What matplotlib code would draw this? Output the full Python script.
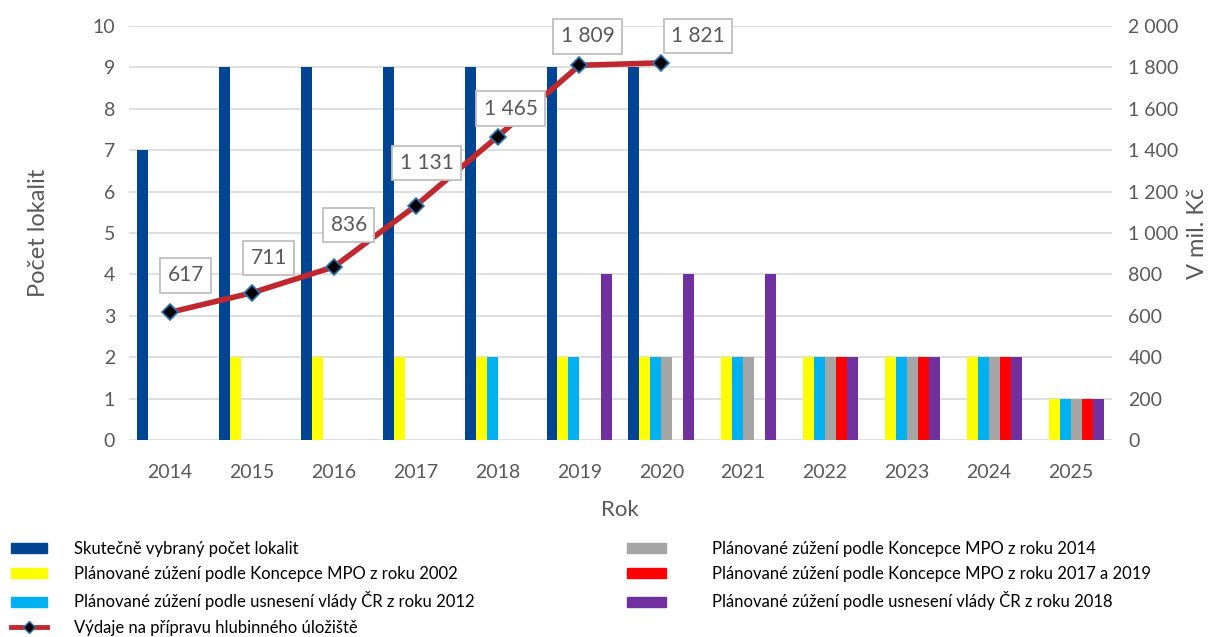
import numpy as np
import matplotlib
matplotlib.use('Agg')
import matplotlib.pyplot as plt
from matplotlib.lines import Line2D
from matplotlib.patches import Patch

plt.rcParams['font.family'] = ['Lato', 'DejaVu Sans']

# === data ===
roky = ['2014', '2015', '2016', '2017', '2018', '2019', '2020',
        '2021', '2022', '2023', '2024', '2025']
nan = np.nan
skutecne = [7, 9, 9, 9, 9, 9, 9, nan, nan, nan, nan, nan]
mpo_2002 = [nan, 2, 2, 2, 2, 2, 2, 2, 2, 2, 2, 1]
vlada_2012 = [nan, nan, nan, nan, 2, 2, 2, 2, 2, 2, 2, 1]
mpo_2014 = [nan, nan, nan, nan, nan, nan, 2, 2, 2, 2, 2, 1]
mpo_2017_2019 = [nan, nan, nan, nan, nan, nan, nan, nan, 2, 2, 2, 1]
vlada_2018 = [nan, nan, nan, nan, nan, 4, 4, 4, 2, 2, 2, 1]
vydaje = [617, 711, 836, 1131, 1465, 1809, 1821]

serie = [
    ('Skutečně vybraný počet lokalit', skutecne, '#004494'),
    ('Plánované zúžení podle Koncepce MPO z roku 2002', mpo_2002, '#FFFF00'),
    ('Plánované zúžení podle usnesení vlády ČR z roku 2012', vlada_2012, '#00B0F0'),
    ('Plánované zúžení podle Koncepce MPO z roku 2014', mpo_2014, '#A5A5A5'),
    ('Plánované zúžení podle Koncepce MPO z roku 2017 a 2019', mpo_2017_2019, '#FF0000'),
    ('Plánované zúžení podle usnesení vlády ČR z roku 2018', vlada_2018, '#7030A0'),
]
line_label = 'Výdaje na přípravu hlubinného úložiště'

grey = '#595959'
fig = plt.figure(figsize=(12.23, 6.37), dpi=100)
ax = fig.add_axes([0.1055, 0.309, 0.8035, 0.6506])

x = np.arange(len(roky))
w = 0.134
for i, (name, vals, col) in enumerate(serie):
    ax.bar(x + (i - 2.5) * w, vals, width=w, color=col, zorder=2)

ax.set_xlim(-0.5, len(roky) - 0.5)
ax.set_ylim(0, 10)
ax.set_yticks(range(0, 11))
ax.set_xticks(x)
ax.set_xticklabels(roky)
ax.grid(axis='y', color='#D9D9D9', lw=1.2, zorder=0)
for s in ax.spines.values():
    s.set_visible(False)
ax.tick_params(axis='y', length=0, labelsize=14, colors=grey, pad=10)
ax.tick_params(axis='x', length=0, labelsize=14, colors=grey, pad=17)
ax.set_xlabel('Rok', fontsize=16, color=grey, labelpad=14)
ax.set_ylabel('Počet lokalit', fontsize=17, color=grey, labelpad=31)

ax2 = ax.twinx()
ax2.set_ylim(0, 2000)
ax2.set_yticks(range(0, 2001, 200))
ax2.set_yticklabels([f'{v:,}'.replace(',', ' ') for v in range(0, 2001, 200)])
for s in ax2.spines.values():
    s.set_visible(False)
ax2.tick_params(length=0, labelsize=14, colors=grey, pad=12)
ax2.set_ylabel('V mil. Kč', fontsize=17, color=grey, labelpad=6)

xl = x[:len(vydaje)]
ax2.plot(xl, vydaje, color='#C0282F', lw=4, zorder=3,
         marker='D', markersize=8, markerfacecolor='black',
         markeredgecolor='#2E75B6', markeredgewidth=1.2)

# posuny popisku v pixelech
offs = [(16, 37), (17, 35), (15, 42), (11, 43), (13, 28), (8, 29), (37, 27)]
for xi, v, (dx, dy) in zip(xl, vydaje, offs):
    ax2.annotate(f'{v:,}'.replace(',', ' '), (xi, v), xytext=(dx, dy),
                 textcoords='offset pixels', ha='center', va='center',
                 fontsize=15, color=grey,
                 bbox=dict(boxstyle='square,pad=0.35', fc='white',
                           ec='#BFBFBF', lw=1.3), zorder=5)

# === legenda ===
h = [Patch(color=c, label=n) for n, _, c in serie]
hl = Line2D([], [], color='#C0282F', lw=3.5, marker='D', markersize=6,
            markerfacecolor='black', markeredgecolor='#2E75B6', label=line_label)
fig.legend(handles=h[:3] + [hl], loc='upper left',
           bbox_to_anchor=(-0.003, 0.174), frameon=False, fontsize=12,
           handlelength=2.15, handleheight=0.55, handletextpad=1.6,
           labelspacing=0.55, labelcolor='black')
fig.legend(handles=h[3:], loc='upper left',
           bbox_to_anchor=(0.5, 0.174), frameon=False, fontsize=12,
           handlelength=2.35, handleheight=0.55, handletextpad=2.75,
           labelspacing=0.55, labelcolor='black')

fig.savefig('out.png', dpi=100)
